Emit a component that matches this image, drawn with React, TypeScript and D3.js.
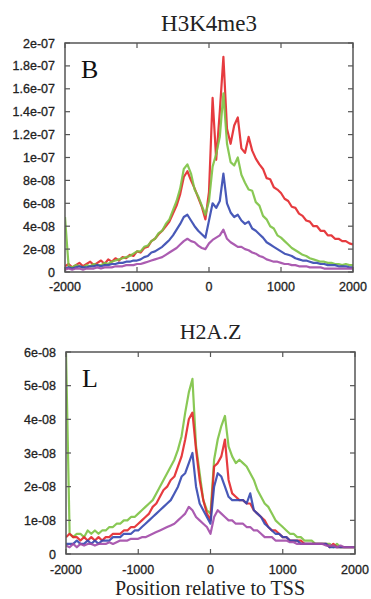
import React from "react";
import * as d3 from "d3";

// x positions span -2000..2000 (bp), values in units of 1e-9
const X_TICKS = [-2000, -1000, 0, 1000, 2000];
const X_TICK_LABELS = ["-2000", "-1000", "0", "1000", "2000"];

const TOP_Y_TICKS = [0, 20, 40, 60, 80, 100, 120, 140, 160, 180, 200];
const TOP_Y_LABELS = ["0", "2e-08", "4e-08", "6e-08", "8e-08", "1e-07", "1.2e-07", "1.4e-07", "1.6e-07", "1.8e-07", "2e-07"];
const BOT_Y_TICKS = [0, 10, 20, 30, 40, 50, 60];
const BOT_Y_LABELS = ["0", "1e-08", "2e-08", "3e-08", "4e-08", "5e-08", "6e-08"];

// H3K4me3 (step 50 bp, -2000..2000)
const TOP_RED = [
  5, 7, 4, 6, 8, 5, 7, 9, 6, 8,
  10, 7, 11, 9, 12, 10, 13, 12, 15, 14,
  18, 17, 21, 22, 27, 29, 33, 36, 40, 44,
  51, 58, 68, 83, 88, 80, 73, 65, 57, 46,
  70, 152, 98, 140, 188, 125, 112, 128, 135, 108,
  104, 118, 106, 99, 94, 90, 82, 81, 74, 72,
  69, 64, 62, 57, 56, 51, 49, 45, 44, 40,
  40, 36, 36, 32, 32, 29, 29, 27, 27, 25,
  24,
];
const TOP_GREEN = [
  48, 5, 4, 6, 5, 4, 6, 5, 7, 6,
  6, 8, 7, 9, 10, 11, 12, 13, 14, 16,
  18, 18, 22, 23, 27, 29, 34, 36, 42, 46,
  54, 62, 73, 90, 94, 86, 72, 66, 58, 50,
  62, 92, 103, 118, 156, 112, 96, 93, 100, 85,
  78, 72, 71, 61, 58, 49, 46, 40, 38, 32,
  30, 27, 24, 21, 19, 17, 15, 14, 12, 11,
  10, 9, 9, 8, 8, 7, 7, 6, 7, 6,
  6,
];
const TOP_BLUE = [
  3, 4, 3, 4, 5, 4, 4, 5, 5, 6,
  5, 6, 6, 7, 7, 8, 8, 9, 9, 10,
  10, 11, 13, 14, 17, 18, 20, 22, 25, 28,
  32, 37, 42, 48, 50, 45, 40, 36, 33, 30,
  45, 60, 56, 62, 86, 60, 52, 48, 50, 45,
  42, 44, 38, 36, 33, 30, 26, 24, 22, 20,
  18, 16, 15, 14, 12, 11, 10, 10, 9, 8,
  8, 7, 7, 6, 6, 6, 5, 5, 5, 4,
  4,
];
const TOP_PURPLE = [
  2, 3, 2, 3, 3, 2, 3, 3, 3, 4,
  3, 4, 4, 4, 5, 5, 5, 6, 6, 6,
  7, 7, 8, 9, 10, 11, 12, 13, 15, 17,
  19, 21, 24, 27, 29, 27, 26, 23, 21, 20,
  25, 28, 30, 32, 37, 29, 26, 24, 22, 22,
  20, 19, 17, 16, 14, 13, 11, 10, 9, 9,
  8, 7, 7, 6, 6, 5, 5, 5, 4, 4,
  4, 4, 3, 3, 3, 3, 3, 3, 3, 3,
  3,
];

// H2A.Z
const BOT_GREEN = [
  60, 6, 5, 6, 6, 5, 7, 6, 7, 6,
  7, 7, 8, 8, 9, 9, 10, 10, 11, 11,
  12, 13, 14, 15, 16, 18, 20, 22, 24, 26,
  28, 31, 35, 42, 48, 52, 32, 24, 16, 13,
  12, 28, 34, 38, 41, 32, 29, 27, 28, 27,
  26, 24, 22, 19, 17, 15, 14, 12, 10, 9,
  8, 7, 6, 6, 5, 5, 4, 4, 4, 3,
  3, 3, 3, 3, 2, 3, 2, 2, 2, 2,
  2,
];
const BOT_RED = [
  5, 6, 5, 5, 4, 5, 4, 5, 4, 5,
  4, 5, 5, 6, 6, 6, 7, 7, 8, 8,
  9, 10, 11, 12, 14, 15, 17, 19, 20, 22,
  23, 26, 29, 34, 40, 42, 31, 22, 16, 12,
  10, 26, 27, 29, 34, 22, 18, 17, 16, 16,
  15, 15, 13, 12, 11, 10, 8, 7, 7, 6,
  5, 5, 4, 4, 4, 4, 3, 3, 3, 3,
  3, 3, 3, 2, 3, 2, 2, 2, 2, 2,
  2,
];
const BOT_BLUE = [
  3, 3, 3, 4, 3, 3, 4, 3, 4, 3,
  4, 4, 4, 5, 5, 5, 6, 6, 6, 7,
  7, 8, 9, 10, 11, 12, 13, 14, 15, 16,
  18, 20, 23, 24, 27, 30, 20, 15, 13, 11,
  9, 20, 24, 23, 20, 17, 16, 16, 16, 16,
  15, 18, 13, 12, 11, 9, 8, 7, 6, 6,
  5, 5, 4, 4, 4, 3, 3, 3, 3, 3,
  3, 3, 3, 2, 2, 2, 2, 2, 2, 2,
  2,
];
const BOT_PURPLE = [
  2.5, 2, 3, 2, 3, 2.5, 3, 3, 2.5, 3,
  3, 3, 3.5, 3, 3.5, 4, 4, 4, 4.5, 4.5,
  4.5, 5, 5, 5.5, 6, 6.5, 7, 7.5, 8, 8.5,
  9, 10, 11, 12, 14, 13, 11, 10, 9, 8,
  6, 11, 13, 12, 11, 10, 10, 9, 9, 9,
  8, 8, 7, 7, 6, 5, 5, 5, 4, 4,
  4, 4, 3.5, 3.5, 3, 3, 3, 3, 3, 3,
  3, 3, 2.5, 2.5, 2.5, 2, 2.5, 2, 2, 2,
  2,
];

const RED = "#e3262a";
const GREEN = "#7cc243";
const BLUE = "#3447b0";
const PURPLE = "#a24aa8";

type Series = { values: number[]; color: string };

type PanelProps = {
  id: string;
  left: number;
  right: number;
  top: number;
  bottom: number;
  yMax: number;
  yTicks: number[];
  yLabels: string[];
  title: string;
  titleSize: number;
  titleY: number;
  letter: string;
  series: Series[];
  xLabelY: number;
};

function Panel(p: PanelProps) {
  const x = d3.scaleLinear().domain([-2000, 2000]).range([p.left, p.right]);
  const y = d3.scaleLinear().domain([0, p.yMax]).range([p.bottom, p.top]);
  const tick = 5;
  const frame = "#555";
  const clipId = "clip-" + p.id;
  return (
    <g>
      <defs>
        <clipPath id={clipId}>
          <rect x={p.left} y={p.top} width={p.right - p.left} height={p.bottom - p.top} />
        </clipPath>
      </defs>
      <text
        x={(p.left + p.right) / 2}
        y={p.titleY}
        textAnchor="middle"
        fontFamily="'Liberation Serif', serif"
        fontSize={p.titleSize}
        fill="#222"
      >
        {p.title}
      </text>
      <g clipPath={`url(#${clipId})`}>
        {p.series.map((s, k) => {
          const n = s.values.length;
          const pts: [number, number][] = s.values.map((v, i) => [
            x(-2000 + (i * 4000) / (n - 1)),
            y(v),
          ]);
          const line = d3.line<[number, number]>().x((d) => d[0]).y((d) => d[1]);
          return (
            <path
              key={k}
              d={line(pts) || ""}
              fill="none"
              stroke={s.color}
              strokeWidth={2.2}
              strokeLinejoin="round"
              opacity={0.9}
            />
          );
        })}
      </g>
      <text
        x={p.left + 16}
        y={p.top + 35}
        fontFamily="'Liberation Serif', serif"
        fontSize={26}
        fill="#111"
      >
        {p.letter}
      </text>
      {X_TICKS.map((t) => (
        <g key={"xt" + t}>
          <line x1={x(t)} x2={x(t)} y1={p.bottom} y2={p.bottom - tick} stroke={frame} strokeWidth={1.2} />
          <line x1={x(t)} x2={x(t)} y1={p.top} y2={p.top + tick} stroke={frame} strokeWidth={1.2} />
        </g>
      ))}
      {p.yTicks.map((t) => (
        <g key={"yt" + t}>
          <line x1={p.left} x2={p.left + tick} y1={y(t)} y2={y(t)} stroke={frame} strokeWidth={1.2} />
          <line x1={p.right} x2={p.right - tick} y1={y(t)} y2={y(t)} stroke={frame} strokeWidth={1.2} />
        </g>
      ))}
      <rect
        x={p.left}
        y={p.top}
        width={p.right - p.left}
        height={p.bottom - p.top}
        fill="none"
        stroke={frame}
        strokeWidth={1.5}
      />
      {p.yTicks.map((t, i) => (
        <text
          key={"yl" + t}
          x={p.left - 10}
          y={y(t)}
          dy="0.36em"
          textAnchor="end"
          fontFamily="'Liberation Sans', Arial, sans-serif"
          fontSize={12.5}
          fill="#222"
          stroke="#222"
          strokeWidth={0.3}
        >
          {p.yLabels[i]}
        </text>
      ))}
      {X_TICKS.map((t, i) => (
        <text
          key={"xl" + t}
          x={x(t)}
          y={p.xLabelY}
          textAnchor="middle"
          fontFamily="'Liberation Sans', Arial, sans-serif"
          fontSize={12.5}
          fill="#222"
          stroke="#222"
          strokeWidth={0.3}
        >
          {X_TICK_LABELS[i]}
        </text>
      ))}
    </g>
  );
}

export default function App() {
  return (
    <svg
      width={371}
      height={599}
      style={{ position: "absolute", left: 0, top: 0, background: "#fff" }}
    >
      <rect x={0} y={0} width={371} height={599} fill="#fff" />
      <Panel
        id="top"
        left={65}
        right={353}
        top={43}
        bottom={272}
        yMax={200}
        yTicks={TOP_Y_TICKS}
        yLabels={TOP_Y_LABELS}
        title="H3K4me3"
        titleSize={23}
        titleY={31}
        letter="B"
        xLabelY={291}
        series={[
          { values: TOP_RED, color: RED },
          { values: TOP_GREEN, color: GREEN },
          { values: TOP_BLUE, color: BLUE },
          { values: TOP_PURPLE, color: PURPLE },
        ]}
      />
      <Panel
        id="bot"
        left={66}
        right={355}
        top={352}
        bottom={554}
        yMax={60}
        yTicks={BOT_Y_TICKS}
        yLabels={BOT_Y_LABELS}
        title="H2A.Z"
        titleSize={22}
        titleY={339}
        letter="L"
        xLabelY={574}
        series={[
          { values: BOT_GREEN, color: GREEN },
          { values: BOT_RED, color: RED },
          { values: BOT_BLUE, color: BLUE },
          { values: BOT_PURPLE, color: PURPLE },
        ]}
      />
      <text
        x={210}
        y={595}
        textAnchor="middle"
        fontFamily="'Liberation Serif', serif"
        fontSize={20}
        fill="#222"
      >
        Position relative to TSS
      </text>
    </svg>
  );
}
